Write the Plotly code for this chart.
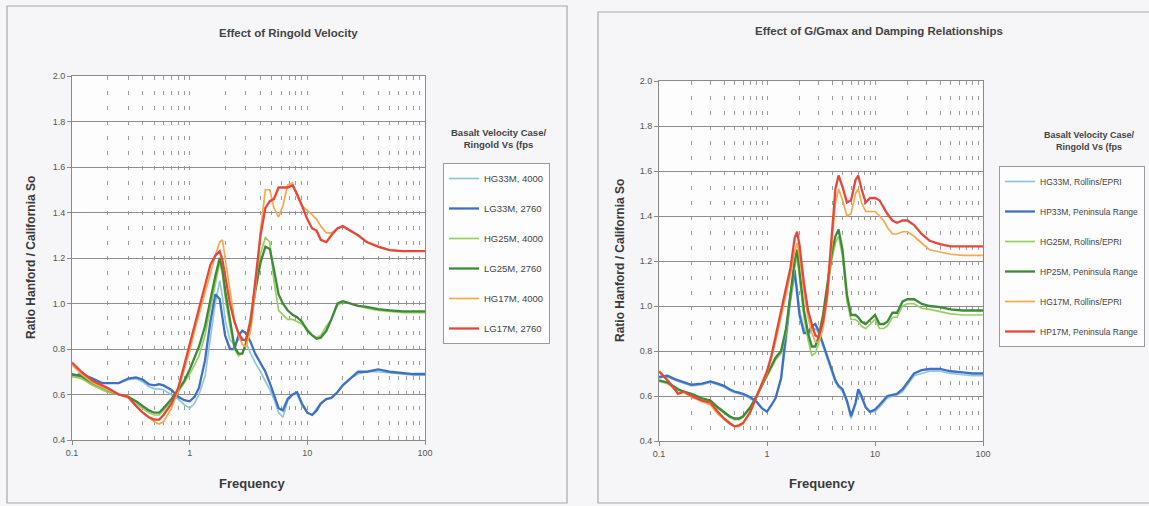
import plotly.graph_objects as go

# ---------------- data : left chart (Effect of Ringold Velocity) ----------------
freq_left = [0.1, 0.12, 0.15, 0.18, 0.2, 0.25, 0.3, 0.35, 0.4, 0.45, 0.5, 0.55, 0.6, 0.7, 0.8, 0.9,
             1.0, 1.1, 1.2, 1.35, 1.5, 1.65, 1.8, 1.9, 2.0, 2.2, 2.4, 2.6, 2.8, 3.0, 3.3, 3.6,
             4.0, 4.4, 4.8, 5.2, 5.7, 6.2, 6.8, 7.5, 8.2, 9.0, 10, 11, 12, 13, 14.5, 16, 18, 20,
             23, 27, 32, 40, 50, 65, 80, 100]

hg33m_4000 = [0.68, 0.685, 0.665, 0.65, 0.65, 0.65, 0.665, 0.67, 0.655, 0.635, 0.625, 0.625, 0.62, 0.60, 0.58, 0.555,
              0.54, 0.56, 0.60, 0.68, 0.85, 1.00, 1.10, 1.03, 0.93, 0.84, 0.82, 0.84, 0.85, 0.83, 0.78, 0.74,
              0.70, 0.66, 0.62, 0.58, 0.52, 0.50, 0.57, 0.60, 0.60, 0.55, 0.52, 0.51, 0.54, 0.56, 0.58, 0.585, 0.61, 0.64,
              0.67, 0.69, 0.70, 0.70, 0.695, 0.69, 0.685, 0.685]
lg33m_2760 = [0.68, 0.69, 0.67, 0.65, 0.65, 0.65, 0.67, 0.675, 0.665, 0.645, 0.64, 0.645, 0.64, 0.62, 0.59, 0.575,
              0.57, 0.59, 0.63, 0.75, 0.92, 1.04, 1.02, 0.94, 0.86, 0.80, 0.80, 0.86, 0.88, 0.87, 0.83, 0.78,
              0.74, 0.70, 0.65, 0.60, 0.54, 0.53, 0.58, 0.60, 0.61, 0.56, 0.52, 0.51, 0.53, 0.56, 0.58, 0.585, 0.61, 0.64,
              0.67, 0.70, 0.70, 0.71, 0.70, 0.695, 0.69, 0.69]
hg25m_4000 = [0.68, 0.67, 0.64, 0.62, 0.61, 0.60, 0.59, 0.56, 0.54, 0.52, 0.51, 0.51, 0.53, 0.57, 0.61, 0.65,
              0.69, 0.73, 0.77, 0.86, 0.98, 1.09, 1.18, 1.13, 1.03, 0.90, 0.80, 0.77, 0.78, 0.83, 0.95, 1.08,
              1.22, 1.29, 1.27, 1.10, 0.97, 0.95, 0.93, 0.93, 0.92, 0.91, 0.89, 0.86, 0.85, 0.86, 0.90, 0.93, 0.99, 1.01,
              1.00, 0.99, 0.98, 0.97, 0.965, 0.96, 0.96, 0.96]
lg25m_2760 = [0.69, 0.68, 0.65, 0.63, 0.62, 0.60, 0.59, 0.57, 0.55, 0.53, 0.52, 0.52, 0.54, 0.58, 0.62, 0.66,
              0.71, 0.76, 0.81, 0.90, 1.02, 1.12, 1.20, 1.15, 1.06, 0.92, 0.81, 0.78, 0.78, 0.82, 0.92, 1.05,
              1.18, 1.25, 1.24, 1.15, 1.04, 1.00, 0.97, 0.95, 0.94, 0.92, 0.88, 0.86, 0.845, 0.85, 0.88, 0.93, 1.00, 1.01,
              1.00, 0.99, 0.985, 0.975, 0.97, 0.965, 0.965, 0.965]
hg17m_4000 = [0.73, 0.69, 0.65, 0.63, 0.62, 0.60, 0.585, 0.55, 0.52, 0.50, 0.48, 0.47, 0.48, 0.54, 0.62, 0.71,
              0.79, 0.88, 0.95, 1.05, 1.14, 1.21, 1.27, 1.28, 1.20, 1.05, 0.93, 0.86, 0.82, 0.81, 0.88, 1.05,
              1.32, 1.50, 1.50, 1.42, 1.38, 1.43, 1.52, 1.53, 1.47, 1.43, 1.41, 1.39, 1.37, 1.34, 1.31, 1.31, 1.33, 1.34,
              1.32, 1.30, 1.27, 1.25, 1.235, 1.23, 1.23, 1.23]
lg17m_2760 = [0.74, 0.70, 0.66, 0.64, 0.63, 0.60, 0.59, 0.55, 0.52, 0.50, 0.49, 0.49, 0.51, 0.56, 0.63, 0.73,
              0.82, 0.91, 0.98, 1.08, 1.17, 1.21, 1.23, 1.19, 1.12, 1.00, 0.92, 0.87, 0.84, 0.84, 0.92, 1.10,
              1.30, 1.42, 1.45, 1.46, 1.51, 1.51, 1.51, 1.52, 1.48, 1.43, 1.37, 1.33, 1.32, 1.28, 1.27, 1.30, 1.33, 1.34,
              1.32, 1.30, 1.27, 1.25, 1.235, 1.23, 1.23, 1.23]

# ---------------- data : right chart (Effect of G/Gmax and Damping) ----------------
freq_right = [0.1, 0.12, 0.14, 0.15, 0.17, 0.2, 0.25, 0.3, 0.35, 0.4, 0.45, 0.5, 0.55, 0.6, 0.7, 0.8, 0.9,
              1.0, 1.1, 1.2, 1.35, 1.5, 1.65, 1.8, 1.9, 2.0, 2.2, 2.4, 2.6, 2.8, 3.0, 3.3, 3.6, 4.0, 4.3,
              4.6, 5.0, 5.5, 6.0, 6.6, 7.0, 7.5, 8.2, 9.0, 10, 11, 12, 13, 14.5, 16, 18, 20, 23, 27, 32,
              40, 50, 65, 80, 100]

hg33m_rollins = [0.68, 0.685, 0.67, 0.665, 0.655, 0.645, 0.65, 0.66, 0.65, 0.64, 0.625, 0.615, 0.61, 0.605, 0.59, 0.57, 0.545,
                 0.53, 0.56, 0.59, 0.67, 0.84, 1.02, 1.13, 1.08, 0.98, 0.90, 0.87, 0.89, 0.90, 0.88, 0.82, 0.77, 0.70, 0.66,
                 0.64, 0.62, 0.57, 0.50, 0.56, 0.62, 0.59, 0.55, 0.53, 0.53, 0.55, 0.57, 0.59, 0.60, 0.605, 0.62, 0.65, 0.69, 0.70, 0.71,
                 0.71, 0.70, 0.695, 0.69, 0.69]
hp33m_peninsula = [0.685, 0.69, 0.675, 0.67, 0.66, 0.65, 0.655, 0.665, 0.655, 0.645, 0.63, 0.62, 0.615, 0.61, 0.595, 0.575, 0.545,
                   0.53, 0.56, 0.59, 0.68, 0.86, 1.05, 1.16, 1.06, 0.96, 0.88, 0.88, 0.91, 0.92, 0.89, 0.83, 0.78, 0.71, 0.67,
                   0.645, 0.63, 0.58, 0.51, 0.57, 0.63, 0.60, 0.55, 0.53, 0.54, 0.56, 0.58, 0.60, 0.605, 0.61, 0.63, 0.66, 0.70, 0.715, 0.72,
                   0.72, 0.71, 0.705, 0.70, 0.70]
hg25m_rollins = [0.665, 0.655, 0.63, 0.625, 0.615, 0.605, 0.585, 0.575, 0.545, 0.525, 0.505, 0.495, 0.495, 0.505, 0.545, 0.595, 0.645,
                 0.69, 0.73, 0.76, 0.79, 0.88, 1.03, 1.17, 1.22, 1.12, 0.95, 0.85, 0.78, 0.79, 0.83, 0.93, 1.05, 1.21, 1.28,
                 1.31, 1.22, 1.02, 0.94, 0.94, 0.93, 0.91, 0.90, 0.92, 0.94, 0.90, 0.90, 0.91, 0.95, 0.95, 1.00, 1.01, 1.01, 0.99, 0.985,
                 0.975, 0.965, 0.96, 0.96, 0.96]
hp25m_peninsula = [0.67, 0.66, 0.64, 0.63, 0.62, 0.61, 0.59, 0.58, 0.55, 0.53, 0.51, 0.50, 0.50, 0.51, 0.55, 0.60, 0.65,
                   0.70, 0.74, 0.77, 0.80, 0.90, 1.05, 1.20, 1.25, 1.15, 0.98, 0.88, 0.82, 0.82, 0.86, 0.96, 1.08, 1.24, 1.31,
                   1.34, 1.25, 1.05, 0.96, 0.96, 0.95, 0.93, 0.92, 0.94, 0.96, 0.92, 0.92, 0.93, 0.97, 0.97, 1.02, 1.03, 1.03, 1.01, 1.00,
                   0.995, 0.985, 0.98, 0.98, 0.98]
hg17m_rollins = [0.71, 0.67, 0.63, 0.61, 0.615, 0.595, 0.575, 0.56, 0.52, 0.495, 0.475, 0.465, 0.465, 0.475, 0.525, 0.595, 0.655,
                 0.70, 0.77, 0.84, 0.95, 1.05, 1.14, 1.24, 1.28, 1.22, 1.06, 0.95, 0.88, 0.84, 0.84, 0.90, 1.02, 1.28, 1.46,
                 1.52, 1.47, 1.40, 1.41, 1.50, 1.52, 1.46, 1.42, 1.42, 1.42, 1.40, 1.38, 1.35, 1.32, 1.32, 1.33, 1.33, 1.31, 1.28, 1.25,
                 1.24, 1.23, 1.225, 1.225, 1.225]
hp17m_peninsula = [0.71, 0.67, 0.63, 0.61, 0.62, 0.60, 0.58, 0.57, 0.53, 0.50, 0.48, 0.465, 0.47, 0.48, 0.53, 0.60, 0.66,
                   0.71, 0.78, 0.86, 0.98, 1.08, 1.17, 1.30, 1.33, 1.27, 1.10, 0.98, 0.92, 0.87, 0.86, 0.93, 1.05, 1.32, 1.52,
                   1.58, 1.53, 1.46, 1.47, 1.56, 1.58, 1.52, 1.46, 1.48, 1.48, 1.47, 1.44, 1.41, 1.38, 1.37, 1.38, 1.38, 1.36, 1.32, 1.29,
                   1.275, 1.265, 1.265, 1.265, 1.265]

left_names = ["HG33M, 4000", "LG33M, 2760", "HG25M, 4000", "LG25M, 2760", "HG17M, 4000", "LG17M, 2760"]
left_values = [hg33m_4000, lg33m_2760, hg25m_4000, lg25m_2760, hg17m_4000, lg17m_2760]
right_names = ["HG33M, Rollins/EPRI", "HP33M, Peninsula Range", "HG25M, Rollins/EPRI",
               "HP25M, Peninsula Range", "HG17M, Rollins/EPRI", "HP17M, Peninsula Range"]
right_values = [hg33m_rollins, hp33m_peninsula, hg25m_rollins, hp25m_peninsula, hg17m_rollins, hp17m_peninsula]

colors = ["#8fc7df", "#3f70c4", "#98cf62", "#3e8a3a", "#f6a94c", "#e5473b"]
widths = [1.7, 2.3, 1.7, 2.3, 1.7, 2.3]

W, H = 1149, 506
def px(x): return x / W
def py(y): return 1 - y / H

FONT = "Liberation Sans, Arial"

fig = go.Figure()
for i, (nm, vals) in enumerate(zip(left_names, left_values)):
    fig.add_trace(go.Scatter(x=freq_left, y=vals, mode="lines", name=nm,
                             line=dict(color=colors[i], width=widths[i]),
                             xaxis="x", yaxis="y", legend="legend", legendgroup="L%d" % i))
for i, (nm, vals) in enumerate(zip(right_names, right_values)):
    fig.add_trace(go.Scatter(x=freq_right, y=vals, mode="lines", name=nm,
                             line=dict(color=colors[i], width=widths[i]),
                             xaxis="x2", yaxis="y2", legend="legend2", legendgroup="R%d" % i))

minor_vals = [k * 10 ** d for d in (-1, 0, 1) for k in range(2, 10)]
tick_font = dict(family=FONT, size=9, color="#555555")

def xaxis_cfg(domain, anchor):
    return dict(type="log", domain=domain, anchor=anchor, range=[-1, 2], automargin=False,
                tickmode="array", tickvals=[0.1, 1, 10, 100], ticktext=["0.1", "1", "10", "100"],
                showgrid=True, gridcolor="#9c9c9c", griddash="4px,11px", gridwidth=1,
                minor=dict(tickmode="array", tickvals=minor_vals, showgrid=True,
                           gridcolor="#9c9c9c", griddash="4px,11px", gridwidth=1),
                showline=True, linecolor="#8a8a8a", linewidth=1, mirror=True,
                ticks="outside", ticklen=4, tickcolor="#8a8a8a", tickfont=tick_font,
                zeroline=False)

def yaxis_cfg(domain, anchor):
    return dict(domain=domain, anchor=anchor, range=[0.4, 2.0], dtick=0.2, tick0=0.4, tickformat=".1f",
                automargin=False,
                showgrid=True, gridcolor="#8f8f8f", gridwidth=1,
                showline=True, linecolor="#8a8a8a", linewidth=1, mirror=True,
                ticks="outside", ticklen=4, tickcolor="#8a8a8a", tickfont=tick_font, zeroline=False)

legend_common = dict(bgcolor="#fdfdfd", bordercolor="#9a9a9a", borderwidth=1,
                     xanchor="left", yanchor="top", tracegroupgap=11, traceorder="grouped",
                     itemwidth=30)

def ann(text, x, y, size, bold=True, angle=0, color="#3a3a3a"):
    t = "<b>%s</b>" % text if bold else text
    return dict(text=t, xref="paper", yref="paper", x=px(x), y=py(y), showarrow=False,
                textangle=angle, align="center", xanchor="center", yanchor="middle",
                font=dict(family=FONT, size=size, color=color))

fig.update_layout(
    width=W, height=H, margin=dict(l=0, r=0, t=0, b=0, autoexpand=False),
    paper_bgcolor="#f6f5f8", plot_bgcolor="#fdfdfd",
    xaxis=xaxis_cfg([px(72), px(425)], "y"),
    yaxis=yaxis_cfg([py(440), py(76)], "x"),
    xaxis2=xaxis_cfg([px(659), px(983)], "y2"),
    yaxis2=yaxis_cfg([py(441), py(81)], "x2"),
    legend=dict(x=px(443), y=py(163), font=dict(family=FONT, size=9.5, color="#444444"),
                **legend_common),
    legend2=dict(x=px(999), y=py(166), font=dict(family=FONT, size=8.5, color="#444444"),
                 **legend_common),
    shapes=[
        dict(type="rect", xref="paper", yref="paper", x0=px(7), x1=px(567), y0=py(503), y1=py(6),
             line=dict(color="#a8a8a8", width=1.2), layer="below"),
        dict(type="rect", xref="paper", yref="paper", x0=px(598), x1=px(1160), y0=py(503), y1=py(12),
             line=dict(color="#a8a8a8", width=1.2), layer="below"),
    ],
    annotations=[
        ann("Effect of Ringold Velocity", 288, 33, 11.5, color="#444444"),
        ann("Effect of G/Gmax and Damping Relationships", 879, 31, 11.5, color="#444444"),
        ann("Basalt Velocity Case/<br>Ringold Vs (fps", 498, 138, 9.5, color="#444444"),
        ann("Basalt Velocity Case/<br>Ringold Vs (fps", 1089, 141, 9, color="#444444"),
        ann("Frequency", 252, 483, 13),
        ann("Frequency", 822, 483, 13),
        ann("Ratio Hanford / California So", 31, 258, 12, angle=-90),
        ann("Ratio Hanford / California So", 620, 261, 12, angle=-90),
    ],
)

fig.write_html("out.html", config={"displayModeBar": False},
               post_script="document.body.style.margin='0';document.body.style.padding='0';"
                           "document.body.style.overflow='hidden';")
